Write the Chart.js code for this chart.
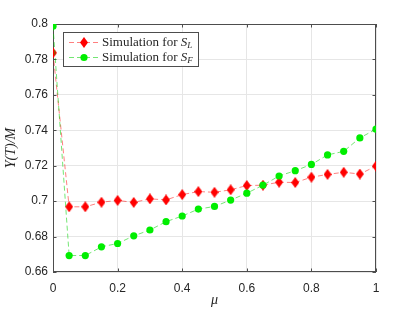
<!DOCTYPE html>
<html>
<head>
<meta charset="utf-8">
<script src="https://cdn.jsdelivr.net/npm/chart.js@4/dist/chart.umd.min.js"></script>
<style>
  html, body { margin: 0; padding: 0; background: #fff; }
  canvas { display: block; }
</style>
</head>
<body>
<canvas id="chart" width="415" height="312"></canvas>
<script>
// mu values on the x axis
const mu = [0, 0.05, 0.1, 0.15, 0.2, 0.25, 0.3, 0.35, 0.4, 0.45, 0.5,
            0.55, 0.6, 0.65, 0.7, 0.75, 0.8, 0.85, 0.9, 0.95, 1];

// Y(T)/M
const simSL = [0.7837, 0.6968, 0.6968, 0.6994, 0.7004, 0.6993, 0.7013, 0.7007, 0.7037, 0.7054, 0.7050,
               0.7064, 0.7088, 0.7090, 0.7107, 0.7105, 0.7135, 0.7151, 0.7163, 0.7153, 0.7198];
const simSF = [0.7988, 0.6693, 0.6693, 0.6742, 0.6761, 0.6804, 0.6837, 0.6884, 0.6916, 0.6955, 0.6970,
               0.7006, 0.7045, 0.7090, 0.7142, 0.7172, 0.7207, 0.7261, 0.7281, 0.7357, 0.7406];

const xTicks = [0, 0.2, 0.4, 0.6, 0.8, 1];
const yTicks = [0.66, 0.68, 0.7, 0.72, 0.74, 0.76, 0.78, 0.8];

const legendNames = [['Simulation for ', 'S', 'L'], ['Simulation for ', 'S', 'F']];

const axisColor = '#4d4d4d';
const textColor = '#262626';

// MATLAB style diamond marker (taller than wide)
function diamond(w, h, color) {
    const c = document.createElement('canvas');
    c.width = w; c.height = h;
    const g = c.getContext('2d');
    g.fillStyle = color;
    g.beginPath();
    g.moveTo(w / 2, 0);
    g.lineTo(w, h / 2);
    g.lineTo(w / 2, h);
    g.lineTo(0, h / 2);
    g.closePath();
    g.fill();
    return c;
}
const redDiamond = diamond(8, 11, '#ff0000');

const toPoints = (ys) => ys.map((y, i) => ({ x: mu[i], y: y }));
const fmt = (v) => String(parseFloat(Number(v).toFixed(2)));

// box around the plot, inward ticks, and the legend
const framePlugin = {
    id: 'frame',
    beforeDatasetsDraw(chart) {
        const { ctx, chartArea: a, scales } = chart;
        ctx.save();
        ctx.strokeStyle = axisColor;
        ctx.lineWidth = 1;
        ctx.strokeRect(Math.round(a.left) + 0.5, Math.round(a.top) + 0.5,
                       Math.round(a.right - a.left) - 1, Math.round(a.bottom - a.top) - 1);
        const len = 3.5;
        ctx.beginPath();
        xTicks.forEach(v => {
            const px = Math.round(scales.x.getPixelForValue(v)) + 0.5;
            ctx.moveTo(px, a.bottom); ctx.lineTo(px, a.bottom - len);
            ctx.moveTo(px, a.top); ctx.lineTo(px, a.top + len);
        });
        yTicks.forEach(v => {
            const py = Math.round(scales.y.getPixelForValue(v)) + 0.5;
            ctx.moveTo(a.left, py); ctx.lineTo(a.left + len, py);
            ctx.moveTo(a.right, py); ctx.lineTo(a.right - len, py);
        });
        ctx.stroke();
        ctx.restore();
    },
    afterDraw(chart) {
        const ctx = chart.ctx;
        const bx = 63.5, by = 32.5, bw = 135, bh = 34;
        ctx.save();
        ctx.fillStyle = '#fff';
        ctx.fillRect(bx, by, bw, bh);
        ctx.strokeStyle = axisColor;
        ctx.lineWidth = 1;
        ctx.strokeRect(bx, by, bw, bh);
        chart.data.datasets.forEach((ds, i) => {
            const y = 42.5 + i * 15;
            ctx.strokeStyle = ds.borderColor;
            ctx.setLineDash(ds.borderDash);
            ctx.beginPath();
            ctx.moveTo(69, y); ctx.lineTo(99, y);
            ctx.stroke();
            ctx.setLineDash([]);
            if (ds.pointStyle === 'circle') {
                ctx.fillStyle = ds.pointBackgroundColor;
                ctx.beginPath();
                ctx.arc(84, y, ds.pointRadius, 0, Math.PI * 2);
                ctx.fill();
            } else {
                ctx.drawImage(ds.pointStyle, 84 - ds.pointStyle.width / 2, y - ds.pointStyle.height / 2);
            }
            const [plain, sym, sub] = legendNames[i];
            ctx.fillStyle = textColor;
            ctx.textBaseline = 'middle';
            ctx.font = '13px "Liberation Serif"';
            ctx.fillText(plain, 102, y);
            let x = 102 + ctx.measureText(plain).width;
            ctx.font = 'italic 13px "Liberation Serif"';
            ctx.fillText(sym, x, y);
            x += ctx.measureText(sym).width;
            ctx.font = 'italic 9px "Liberation Serif"';
            ctx.fillText(sub, x, y + 3);
        });
        ctx.restore();
    }
};

new Chart(document.getElementById('chart'), {
    type: 'line',
    data: {
        datasets: [
            {
                label: 'Simulation for S_L',
                data: toPoints(simSL),
                borderColor: 'rgba(255, 0, 0, 0.5)',
                borderWidth: 1,
                borderDash: [5, 3],
                pointStyle: redDiamond,
                pointBackgroundColor: '#ff0000',
                pointRadius: 4,
                order: 2
            },
            {
                label: 'Simulation for S_F',
                data: toPoints(simSF),
                borderColor: 'rgba(0, 210, 0, 0.55)',
                borderWidth: 1,
                borderDash: [5, 3],
                pointStyle: 'circle',
                pointBackgroundColor: '#00ee00',
                pointBorderWidth: 0,
                pointRadius: 3.6,
                order: 1
            }
        ]
    },
    options: {
        responsive: false,
        animation: false,
        devicePixelRatio: 1,
        layout: { padding: { left: 0, right: 39, top: 24, bottom: 0 } },
        plugins: {
            legend: { display: false },
            tooltip: { enabled: false }
        },
        scales: {
            x: {
                type: 'linear',
                min: 0,
                max: 1,
                afterFit: (s) => { s.height = 40; },
                afterBuildTicks: (s) => { s.ticks = xTicks.map(v => ({ value: v })); },
                grid: { color: '#e6e6e6', drawTicks: false },
                border: { display: false },
                ticks: {
                    padding: 9,
                    color: textColor,
                    font: { family: '"Liberation Sans", Arial', size: 12 },
                    callback: fmt,
                    maxRotation: 0
                },
                title: {
                    display: true,
                    text: 'μ',
                    color: textColor,
                    font: { family: '"Liberation Serif"', size: 14, style: 'italic' },
                    padding: { top: 0, bottom: 3 }
                }
            },
            y: {
                type: 'linear',
                min: 0.66,
                max: 0.8,
                afterFit: (s) => { s.width = 53; },
                afterBuildTicks: (s) => { s.ticks = yTicks.map(v => ({ value: v })); },
                grid: { color: '#e6e6e6', drawTicks: false },
                border: { display: false },
                ticks: {
                    padding: 5,
                    color: textColor,
                    font: { family: '"Liberation Sans", Arial', size: 12 },
                    callback: fmt
                },
                title: {
                    display: true,
                    text: 'Y(T)/M',
                    color: textColor,
                    font: { family: '"Liberation Serif"', size: 14, style: 'italic' },
                    padding: { top: 3, bottom: 0 }
                }
            }
        }
    },
    plugins: [framePlugin]
});
</script>
</body>
</html>
